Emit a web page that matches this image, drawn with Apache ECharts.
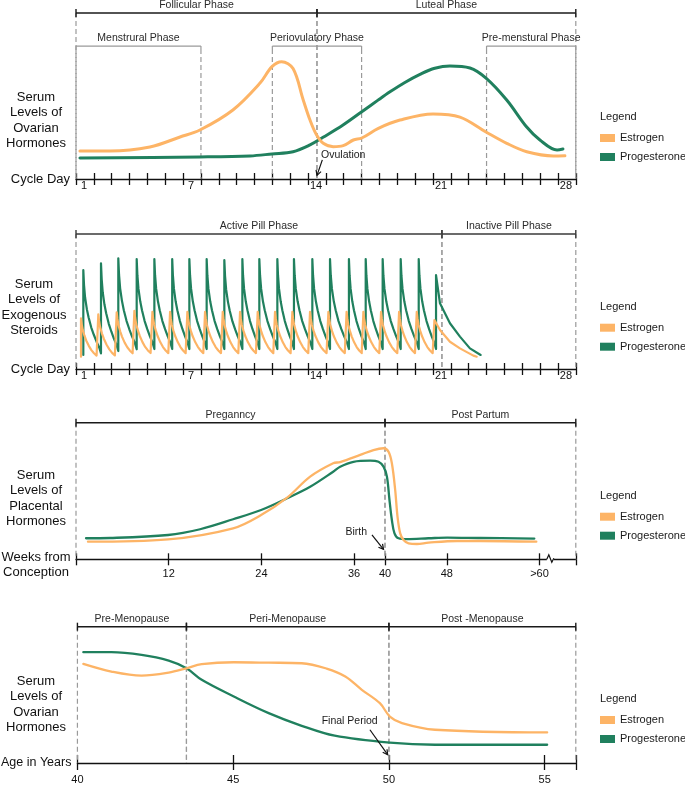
<!DOCTYPE html>
<html><head><meta charset="utf-8">
<script src="https://cdn.jsdelivr.net/npm/echarts@6/dist/echarts.min.js"></script>
<style>html,body{margin:0;padding:0;background:#fff}#chart{width:685px;height:785px}</style>
</head><body><div id="chart"></div>
<script>
// ================= DATA =================
// Panel 1: menstrual cycle (x = cycle day, y = relative serum level)
const cycleLabelDays = [1, 7, 14, 21, 28];
const cyclePhases = [['Follicular Phase', 1, 14.5], ['Luteal Phase', 14.5, 29]];
const cycleSubPhases = [['Menstrural Phase', 1, 8], ['Periovulatory Phase', 12, 17], ['Pre-menstural Phase', 24, 29]];
const cycleEstrogen = [[1.22,16.9],[2.9,16.9],[5.14,19.3],[6.83,25.3],[7.94,29.5],[9.79,41.6],[11.31,57.8],[11.98,67.7],[12.52,70.7],[13.16,66.5],[13.73,47.6],[14.11,35.5],[14.48,26.5],[14.85,21.5],[15.41,19.5],[15.97,20.1],[16.54,23.5],[17.01,24.7],[17.94,30.5],[19.15,35.5],[21.0,39.2],[22.51,37.3],[23.97,28.3],[25.13,21.5],[26.25,16.4],[27.74,13.9],[28.39,14.0]];
const cycleProgesterone = [[1.22,12.7],[7.94,13.3],[10.75,13.9],[11.98,15.1],[13.16,16.4],[14.11,20.5],[14.84,25.1],[15.96,32.5],[17.01,40.5],[17.92,47.5],[18.59,52.5],[19.4,58.0],[20.27,63.0],[21.1,66.7],[21.95,68.1],[23.07,66.9],[23.97,60.8],[25.13,47.6],[26.25,31.3],[26.99,23.5],[27.95,17.5],[28.28,18.1]];
const cycleNotes = [{text: 'Ovulation', at: [14.73, 14.5], align: 'left', from: [14.8, 11.5], to: [14.5, 2.2]}];

// Panel 2: oral contraceptive pill (daily doses)
const pillPhases = [['Active Pill Phase', 1, 21.5], ['Inactive Pill Phase', 21.5, 29]];
const pillEstrogenDays = [1.28,2.25,3.28,4.27,5.28,6.27,7.24,8.23,9.22,10.19,11.18,12.15,13.12,14.11,15.14,16.16,17.10,18.09,19.10,20.09,21.08];
const pillEstrogenPeaks = [37.6,40.5,42.0,43.0,42.4,42.4,42.4,42.4,42.4,42.4,42.4,42.4,42.4,42.4,42.4,42.4,42.4,42.4,42.4,42.4,36.3];
const pillEstrogenTroughs = [9.1,8.8,8.8,10.4,10.5,10.5,10.5,10.5,10.5,10.5,10.5,10.5,10.5,10.5,10.5,10.5,10.5,10.5,10.5,10.5,10.5];
const pillEstrogenDecay = [[0.04,0.85],[0.1,0.7],[0.2,0.55],[0.3,0.43],[0.45,0.29],[0.6,0.18],[0.75,0.1],[0.9,0.04]];
const pillEstrogenTail = [[21.39,28.9],[21.95,20.2],[22.51,15.3],[23.26,9.9],[23.45,9.1]];
const pillProgesteroneDays = [1.41,2.40,3.37,4.40,5.39,6.39,7.35,8.32,9.31,10.32,11.27,12.28,13.21,14.24,15.23,16.29,17.23,18.18,19.19,20.20,21.17];
const pillProgesteronePeaks = [73.3,78.3,82.0,81.5,81.5,81.5,81.5,81.5,80.7,81.5,81.5,81.5,81.5,81.5,81.5,81.5,81.5,81.5,81.5,81.5,69.6];
const pillProgesteroneTroughs = [10.4,11.6,13.3,14.6,14.8,14.8,14.8,14.8,14.8,14.8,14.8,14.8,14.8,14.8,14.8,14.8,14.8,14.8,14.8,14.8,14.8];
const pillProgesteroneDecay = [[0.04,0.82],[0.1,0.67],[0.2,0.53],[0.3,0.43],[0.45,0.31],[0.6,0.22],[0.75,0.14],[0.9,0.07]];
const pillProgesteroneTail = [[21.39,48.7],[21.95,33.9],[22.51,24.0],[23.07,15.3],[23.67,10.4]];

// Panel 3: pregnancy (x = weeks from conception)
const pregPhases = [['Preganncy', 0, 40], ['Post Partum', 40, 64.7]];
const weekTicks = [0, 12, 24, 36, 40, 48, 60, 64.7];
const weekLabels = [12, 24, 36, 40, 48, 60];
const pregEstrogen = [[1.55,12.9],[11.92,14.6],[20.34,22.7],[23.96,32.4],[27.33,45.1],[30.31,60.5],[33.29,70.3],[34.2,71.2],[36.79,76.4],[38.51,80.0],[39.81,81.3],[40.45,78.8],[40.89,70.3],[41.32,50.7],[41.62,31.2],[41.97,19.0],[42.4,14.1],[43.05,11.7],[44.13,11.2],[45.63,12.2],[49.35,13.4],[52.33,13.4],[59.59,12.9]];
const pregProgesterone = [[1.3,15.4],[4.4,15.6],[11.92,17.8],[16.06,22.0],[20.34,29.3],[23.96,36.1],[27.33,44.7],[30.31,53.1],[33.29,64.1],[34.2,67.8],[35.92,71.4],[38.08,72.2],[39.16,71.4],[39.81,67.8],[40.25,60.5],[40.58,43.4],[40.89,28.8],[41.23,19.0],[41.75,15.4],[42.84,14.8],[45.63,15.4],[48.06,15.9],[52.33,15.6],[59.33,15.2]];
const pregNotes = [{text: 'Birth', at: [36.27, 20.0], align: 'center', from: [38.31, 17.8], to: [39.81, 7.3]}];
const weekAxisBreak = [61.4];

// Panel 4: menopause (x = age in years)
const menoPhases = [['Pre-Menopause', 40, 43.5], ['Peri-Menopause', 43.5, 50], ['Post -Menopause', 50, 56]];
const ageTicks = [40, 45, 50, 55, 56];
const ageLabels = [40, 45, 50, 55];
const menoEstrogen = [[40.19,72.7],[41.09,67.1],[42.06,64.1],[42.93,66.3],[43.5,69.5],[43.99,72.5],[45.02,73.9],[46.14,73.6],[47.2,73.2],[48.0,69.3],[48.6,63.5],[49.13,53.7],[49.71,43.9],[50.03,34.1],[50.42,29.3],[51.48,24.4],[55.08,22.4]];
const menoProgesterone = [[40.19,81.3],[41.09,81.3],[42.06,79.3],[42.93,75.1],[43.5,69.5],[43.99,61.0],[45.02,48.8],[46.14,36.6],[47.2,27.3],[48.26,20.0],[50.03,14.9],[51.48,13.4],[55.08,13.4]];
const menoNotes = [{text: 'Final Period', at: [48.74, 30.5], align: 'center', from: [49.39, 24.4], to: [49.96, 6.1]}];

const seriesNames = ['Estrogen', 'Progesterone'];

// ================= STYLE / BUILD =================
const ORANGE = '#FDB466';
const GREEN = '#20805E';
const FONT = '"Liberation Sans", Arial, Helvetica, sans-serif';
const INK = '#111';
const DASH = '#9a9a9a';

function buildPill(days, peaks, troughs, decay, tail) {
  const pts = [];
  for (let i = 0; i < days.length; i++) {
    pts.push([days[i], troughs[i]]);
    pts.push([days[i], peaks[i]]);
    if (i < days.length - 1) {
      const span = days[i + 1] - days[i];
      const base = troughs[i + 1];
      const amp = peaks[i] - base;
      decay.forEach(([t, f]) => pts.push([days[i] + t * span, base + f * amp]));
    }
  }
  tail.forEach(p => pts.push(p));
  return pts;
}

const grids = [
  {top: 13, height: 166},
  {top: 234, height: 135},
  {top: 422.7, height: 136.6},
  {top: 626.7, height: 136.6}
];

function axisPair(g, cfg) {
  const common = {type: 'value', gridIndex: g, min: cfg.min, max: cfg.max, position: 'bottom', splitLine: {show: false}};
  if (cfg.interval) common.interval = cfg.interval;
  const tickCommon = {show: true, lineStyle: {color: INK, width: 1.3}};
  if (cfg.ticks) tickCommon.customValues = cfg.ticks;
  const main = Object.assign({}, common, {
    name: cfg.name || '', nameLocation: 'start', nameGap: cfg.nameGap || 6,
    nameTextStyle: Object.assign({fontSize: 13, color: INK, fontFamily: FONT}, cfg.nameStyle || {}),
    axisLine: {show: true, onZero: false, lineStyle: {color: INK, width: 1.3}},
    axisTick: Object.assign({}, tickCommon, {inside: false, length: cfg.tickOut}),
    axisLabel: {customValues: cfg.labels, margin: cfg.labelMargin, fontSize: 11, color: INK, fontFamily: FONT,
      padding: cfg.labelPad || 0, formatter: cfg.formatter || (v => String(v))}
  });
  const inner = Object.assign({}, common, {
    axisLine: {show: false, onZero: false},
    axisTick: Object.assign({}, tickCommon, {inside: true, length: cfg.tickIn}),
    axisLabel: {show: false}
  });
  return [main, inner];
}

const xAxis = [].concat(
  axisPair(0, {min: 1, max: 29, interval: 1, labels: cycleLabelDays, name: 'Cycle Day', nameGap: 6, tickOut: 6, tickIn: 6, labelMargin: 1, labelPad: [0, 0, 0, 16]}),
  axisPair(1, {min: 1, max: 29, interval: 1, labels: cycleLabelDays, name: 'Cycle Day', nameGap: 6, tickOut: 6, tickIn: 6, labelMargin: 1, labelPad: [0, 0, 0, 16]}),
  axisPair(2, {min: 0, max: 64.7, ticks: weekTicks, labels: weekLabels, tickOut: 6, tickIn: 6, labelMargin: 9,
    formatter: v => (v === 60 ? '>60' : String(v))}),
  axisPair(3, {min: 40, max: 56, ticks: ageTicks, labels: ageLabels, name: 'Age in Years', nameGap: 6,
    nameStyle: {fontSize: 12.5}, tickOut: 7, tickIn: 8, labelMargin: 11})
);

const yAxis = grids.map((g, i) => ({type: 'value', gridIndex: i, min: 0, max: 100, show: false}));

function curve(name, data, g, color, width, extra) {
  return Object.assign({
    name, type: 'line', data, xAxisIndex: g * 2, yAxisIndex: g,
    symbol: 'none', showSymbol: false, smooth: 0.35,
    lineStyle: {color, width, cap: 'round', join: 'round'}, itemStyle: {color}, z: 5, silent: true
  }, extra || {});
}

function phaseSeries(g, phases, level, kind) {
  const top = kind === 'top';
  const lineColor = top ? (g === 1 ? '#3a3a3a' : '#1a1a1a') : '#9a9a9a';
  return {
    type: 'custom', xAxisIndex: g * 2, yAxisIndex: g, silent: true, z: 3, clip: false,
    encode: {x: [0, 1], y: 2},
    data: phases.map(p => [p[1], p[2], level]),
    renderItem: (params, api) => {
      const p = phases[params.dataIndex];
      const a = api.coord([api.value(0), api.value(2)]);
      const b = api.coord([api.value(1), api.value(2)]);
      const base = api.coord([api.value(0), 0])[1];
      const kids = [];
      [a, b].forEach(pt => {
        kids.push({type: 'line', shape: {x1: pt[0], y1: top ? pt[1] : pt[1] + 3, x2: pt[0], y2: base},
          style: {stroke: DASH, lineWidth: 1.2, lineDash: [5, 3]}});
      });
      kids.push({type: 'line', shape: {x1: a[0], y1: a[1], x2: b[0], y2: b[1]},
        style: {stroke: lineColor, lineWidth: top ? 1.4 : 1.2}});
      [a, b].forEach(pt => {
        kids.push({type: 'line', shape: top ? {x1: pt[0], y1: pt[1] - 4, x2: pt[0], y2: pt[1] + 4} : {x1: pt[0], y1: pt[1], x2: pt[0], y2: pt[1] + 3},
          style: {stroke: lineColor, lineWidth: top ? 1.4 : 1.2}});
      });
      kids.push({type: 'text', style: {x: (a[0] + b[0]) / 2, y: a[1] - 2.5, text: p[0], align: 'center', verticalAlign: 'bottom',
        fill: '#2a2a2a', font: '10.5px ' + FONT}});
      return {type: 'group', children: kids};
    }
  };
}

function noteSeries(g, notes) {
  return {
    type: 'custom', xAxisIndex: g * 2, yAxisIndex: g, silent: true, z: 6, clip: false,
    data: notes.map(n => n.at),
    renderItem: (params, api) => {
      const n = notes[params.dataIndex];
      const t = api.coord(n.at), p0 = api.coord(n.from), p1 = api.coord(n.to);
      const ang = Math.atan2(p1[1] - p0[1], p1[0] - p0[0]);
      const L = 5.5, w = 0.5;
      const h1 = [p1[0] - L * Math.cos(ang - w), p1[1] - L * Math.sin(ang - w)];
      const h2 = [p1[0] - L * Math.cos(ang + w), p1[1] - L * Math.sin(ang + w)];
      return {type: 'group', children: [
        {type: 'text', style: {x: t[0], y: t[1], text: n.text, align: n.align, verticalAlign: 'middle', fill: '#1a1a1a', font: '10.5px ' + FONT}},
        {type: 'line', shape: {x1: p0[0], y1: p0[1], x2: p1[0], y2: p1[1]}, style: {stroke: '#111', lineWidth: 1.2}},
        {type: 'polyline', shape: {points: [h1, p1, h2]}, style: {stroke: '#111', lineWidth: 1.2, fill: null}}
      ]};
    }
  };
}

function breakSeries(g, xs) {
  return {
    type: 'custom', xAxisIndex: g * 2, yAxisIndex: g, silent: true, z: 7, clip: false,
    data: xs.map(x => [x, 0]),
    renderItem: (params, api) => {
      const c = api.coord([api.value(0), api.value(1)]);
      return {type: 'group', children: [
        {type: 'rect', shape: {x: c[0] - 3.5, y: c[1] - 2, width: 7, height: 4}, style: {fill: '#fff'}},
        {type: 'polyline', shape: {points: [[c[0] - 3.5, c[1]], [c[0] - 1.5, c[1] - 4.5], [c[0] + 1.5, c[1] + 3], [c[0] + 3.5, c[1] - 1]]},
          style: {stroke: '#111', lineWidth: 1.2, fill: null}}
      ]};
    }
  };
}

const series = [
  phaseSeries(0, cyclePhases, 100, 'top'),
  phaseSeries(0, cycleSubPhases, 80.1, 'sub'),
  curve('Progesterone', cycleProgesterone, 0, GREEN, 3),
  curve('Estrogen', cycleEstrogen, 0, ORANGE, 3),
  noteSeries(0, cycleNotes),

  phaseSeries(1, pillPhases, 100, 'top'),
  curve('Progesterone', buildPill(pillProgesteroneDays, pillProgesteronePeaks, pillProgesteroneTroughs, pillProgesteroneDecay, pillProgesteroneTail), 1, GREEN, 2.2, {smooth: false}),
  curve('Estrogen', buildPill(pillEstrogenDays, pillEstrogenPeaks, pillEstrogenTroughs, pillEstrogenDecay, pillEstrogenTail), 1, ORANGE, 2.2, {smooth: false}),

  phaseSeries(2, pregPhases, 100, 'top'),
  curve('Progesterone', pregProgesterone, 2, GREEN, 2.3),
  curve('Estrogen', pregEstrogen, 2, ORANGE, 2.3),
  noteSeries(2, pregNotes),
  breakSeries(2, weekAxisBreak),

  phaseSeries(3, menoPhases, 100, 'top'),
  curve('Progesterone', menoProgesterone, 3, GREEN, 2.3),
  curve('Estrogen', menoEstrogen, 3, ORANGE, 2.3),
  noteSeries(3, menoNotes)
];

const legendTops = [131, 320.7, 509.7, 713];
const legend = legendTops.map(top => ({
  left: 600, top, orient: 'vertical', padding: 0, itemGap: 5, itemWidth: 15, itemHeight: 8, icon: 'rect',
  data: seriesNames, selectedMode: false,
  textStyle: {fontSize: 11, color: '#1a1a1a', fontFamily: FONT, lineHeight: 14}
}));

const sideTitles = [
  ['Serum\nLevels of\nOvarian\nHormones', 36, 120.5],
  ['Serum\nLevels of\nExogenous\nSteroids', 34, 307.5],
  ['Serum\nLevels of\nPlacental\nHormones', 36, 498.2],
  ['Serum\nLevels of\nOvarian\nHormones', 36, 704.2],
  ['Weeks from\nConception', 36, 565]
];
const legendTitleY = [117, 306.7, 495.7, 699];

const graphic = [];
sideTitles.forEach(([t, x, y]) => graphic.push({type: 'text', style: {x, y, text: t, align: 'center', verticalAlign: 'middle',
  font: '13px ' + FONT, fill: INK, lineHeight: 15.5}}));
legendTitleY.forEach(y => graphic.push({type: 'text', style: {x: 600, y, text: 'Legend', align: 'left', verticalAlign: 'middle',
  font: '11px ' + FONT, fill: '#1a1a1a'}}));

const chart = echarts.init(document.getElementById('chart'), null, {renderer: 'canvas'});
chart.setOption({
  animation: false,
  backgroundColor: '#fff',
  textStyle: {fontFamily: FONT},
  grid: grids.map(g => ({left: 76, right: 109.2, top: g.top, height: g.height})),
  xAxis, yAxis, series, legend, graphic
});
</script></body></html>
